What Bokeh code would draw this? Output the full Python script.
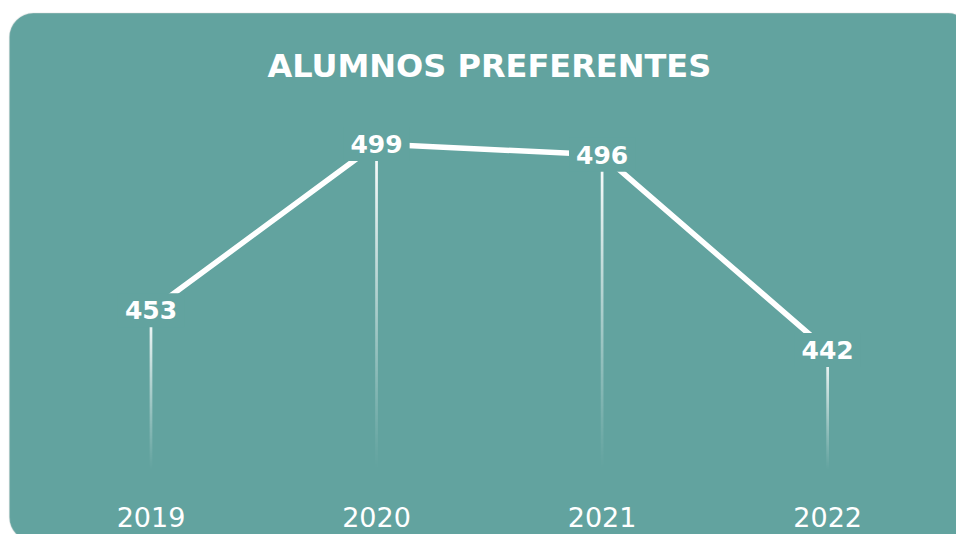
import numpy as np
from bokeh.plotting import figure
from bokeh.models import ColumnDataSource, Range1d, BoxAnnotation
from bokeh.core.properties import value
from bokeh.embed import file_html
from bokeh.resources import INLINE

# ---- data ----
years = ["2019", "2020", "2021", "2022"]
alumnos = [453, 499, 496, 442]
title_text = "ALUMNOS PREFERENTES"

# ---- style ----
TEAL = "#62A39F"
BORDER = "#D6D6D6"
FONT = "DejaVu Sans"

xs = list(range(len(years)))

X_MIN, X_MAX = -0.6672, 3.5712
Y_MIN, Y_MAX = 391.0, 538.69
BASE = 408.5          # where the drop lines fade out
YEAR_Y = 395.8        # baseline of year labels
TITLE_Y = 520.7       # baseline of title
DROP_W = 0.012        # drop line width in x units (~2.7 px)

p = figure(width=956, height=534, output_backend="svg", toolbar_location=None,
           x_range=Range1d(X_MIN, X_MAX), y_range=Range1d(Y_MIN, Y_MAX),
           x_axis_type=None, y_axis_type=None, min_border=0)
p.min_border_left = 0
p.min_border_right = 0
p.min_border_top = 0
p.min_border_bottom = 0
p.outline_line_color = None
p.background_fill_color = "white"
p.border_fill_color = "white"

box = BoxAnnotation(left=-0.628, right=3.641, top=535.2, bottom=389.1,
                    fill_color=TEAL, fill_alpha=1.0,
                    line_color=BORDER, line_width=1.5,
                    border_radius=24, level="underlay")
p.add_layout(box)

# drop lines as vertical white gradients (opaque at the point, fading to the bottom)
M = 300
imgs, ix, iy, idw, idh = [], [], [], [], []
for x, v in zip(xs, alumnos):
    t = np.linspace(0.0, 1.0, M)            # 0 at bottom row, 1 at top row
    alpha = (np.clip(t, 0, 1) ** 1.1 * 255).astype(np.uint32)
    arr = np.zeros((M, 2), dtype=np.uint32)
    view = arr.view(dtype=np.uint8).reshape((M, 2, 4))
    view[:, :, 0] = 255
    view[:, :, 1] = 255
    view[:, :, 2] = 255
    view[:, :, 3] = alpha[:, None]
    imgs.append(arr)
    ix.append(x - DROP_W / 2)
    iy.append(BASE)
    idw.append(DROP_W)
    idh.append(v - BASE)
p.image_rgba(image=imgs, x=ix, y=iy, dw=idw, dh=idh)

# main line
src = ColumnDataSource(dict(x=xs, y=alumnos, label=[str(v) for v in alumnos]))
p.line(x="x", y="y", source=src, line_color="white", line_width=5.5)

# value labels with teal background that hides the line
p.text(x="x", y="y", text="label", source=src,
       text_font=value(FONT), text_font_style="bold", text_font_size="25px",
       text_color="white", text_align="center", text_baseline="middle",
       background_fill_color=TEAL, background_fill_alpha=1.0,
       padding=dict(left=7, right=7, top=8, bottom=8))

# year labels
ysrc = ColumnDataSource(dict(x=xs, y=[YEAR_Y] * len(xs), t=years))
p.text(x="x", y="y", text="t", source=ysrc,
       text_font=value(FONT), text_font_size="27px",
       text_color="white", text_align="center", text_baseline="alphabetic")

# title
tsrc = ColumnDataSource(dict(x=[(xs[0] + xs[-1]) / 2], y=[TITLE_Y], t=[title_text]))
p.text(x="x", y="y", text="t", source=tsrc,
       text_font=value(FONT), text_font_style="bold", text_font_size="32px",
       text_color="white", text_align="center", text_baseline="alphabetic")

open("out.html", "w").write(file_html(p, INLINE))
